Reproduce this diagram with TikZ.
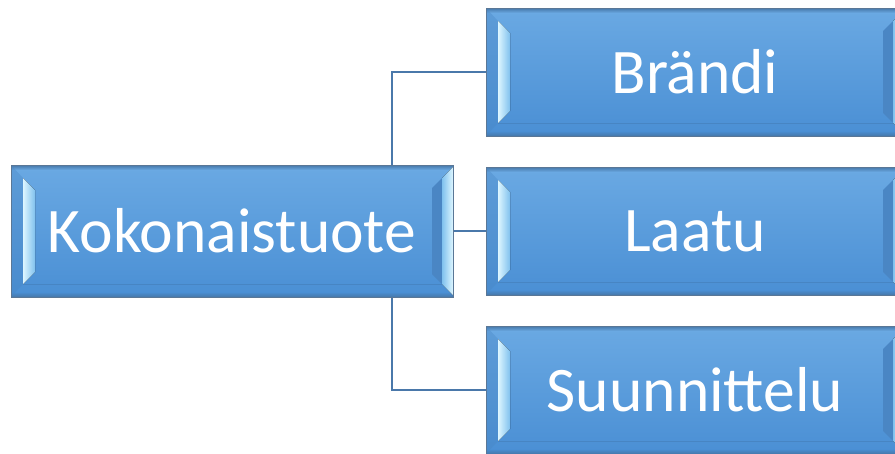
\documentclass[tikz,border=0pt]{standalone}
\usepackage{fontspec}
\setmainfont{Carlito}
\definecolor{faceT}{HTML}{6AA9E3}
\definecolor{faceB}{HTML}{4A8FD4}
\definecolor{glowL}{HTML}{DDF6FF}
\definecolor{glowR}{HTML}{80C1EE}
\definecolor{shadeR}{HTML}{4A86C4}
\definecolor{seam}{HTML}{4785C3}
\definecolor{rim}{HTML}{4677A8}
\definecolor{edge}{HTML}{5A7796}
\definecolor{conn}{HTML}{4A78AA}
\tikzset{
  boxnode/.style={draw=edge, line width=1pt, rectangle, inner sep=0pt,
    text=white, font=\fontsize{63.5}{63.5}\selectfont},
  connline/.style={draw=conn, line width=2.2pt},
}
% bevelled box: name, x0, y0, x1, y1, text
\newcommand\bevelbox[6]{%
  % body
  \fill[top color=faceT, bottom color=faceB] (#2,#3) rectangle (#4,#5);
  % shadow under the top rim
  \fill[top color=rim, bottom color=faceT] (#2,#3) rectangle (#4,{#3+5});
  % lower bevel: seam and dark rim
  \draw[seam, line width=1pt] ({#2+12},{#5-13}) -- ({#4-11},{#5-13});
  \fill[top color=faceB, bottom color=rim] (#2,{#5-5}) rectangle (#4,#5);
  % outer left band, slightly darker
  \fill[seam, opacity=0.35] (#2,#3) -- ({#2+12},{#3+13}) -- ({#2+12},{#5-13}) -- (#2,#5) -- cycle;
  % left highlight
  \fill[left color=glowL, right color=glowR]
    ({#2+12},{#3+13}) -- ({#2+24},{#3+25}) -- ({#2+24},{#5-25}) -- ({#2+12},{#5-13}) -- cycle;
  % right shadow and highlight
  \fill[shadeR]
    ({#4-21},{#3+23}) -- ({#4-11},{#3+13}) -- ({#4-11},{#5-13}) -- ({#4-21},{#5-23}) -- cycle;
  \fill[left color=glowR, right color=glowL]
    ({#4-11},{#3+13}) -- (#4,{#3+2}) -- (#4,{#5-2}) -- ({#4-11},{#5-13}) -- cycle;
  \node[boxnode, minimum width={(#4-#2)*1pt}, minimum height={(#5-#3)*1pt}]
    (#1) at ({(#2+#4)/2},{(#3+#5)/2}) {#6};
}
\begin{document}
\begin{tikzpicture}[x=1pt, y=-1pt]
  \useasboundingbox (0,0) rectangle (895,453);
  \begin{scope}
    \clip (0,0) rectangle (895,453);
    \bevelbox{k}{11}{165}{453}{297}{Kokonaistuote}
    \bevelbox{b}{486}{8}{904}{136}{Brändi}
    \bevelbox{l}{486}{167}{904}{295}{Laatu}
    \bevelbox{s}{486}{326}{904}{454}{Suunnittelu}
  \end{scope}
  \coordinate (bus) at (392,0);
  \draw[connline] (k.north -| bus) |- (b.west);
  \draw[connline] (k.south -| bus) |- (s.west);
  \draw[connline] (k.east) -- (l.west);
\end{tikzpicture}
\end{document}
